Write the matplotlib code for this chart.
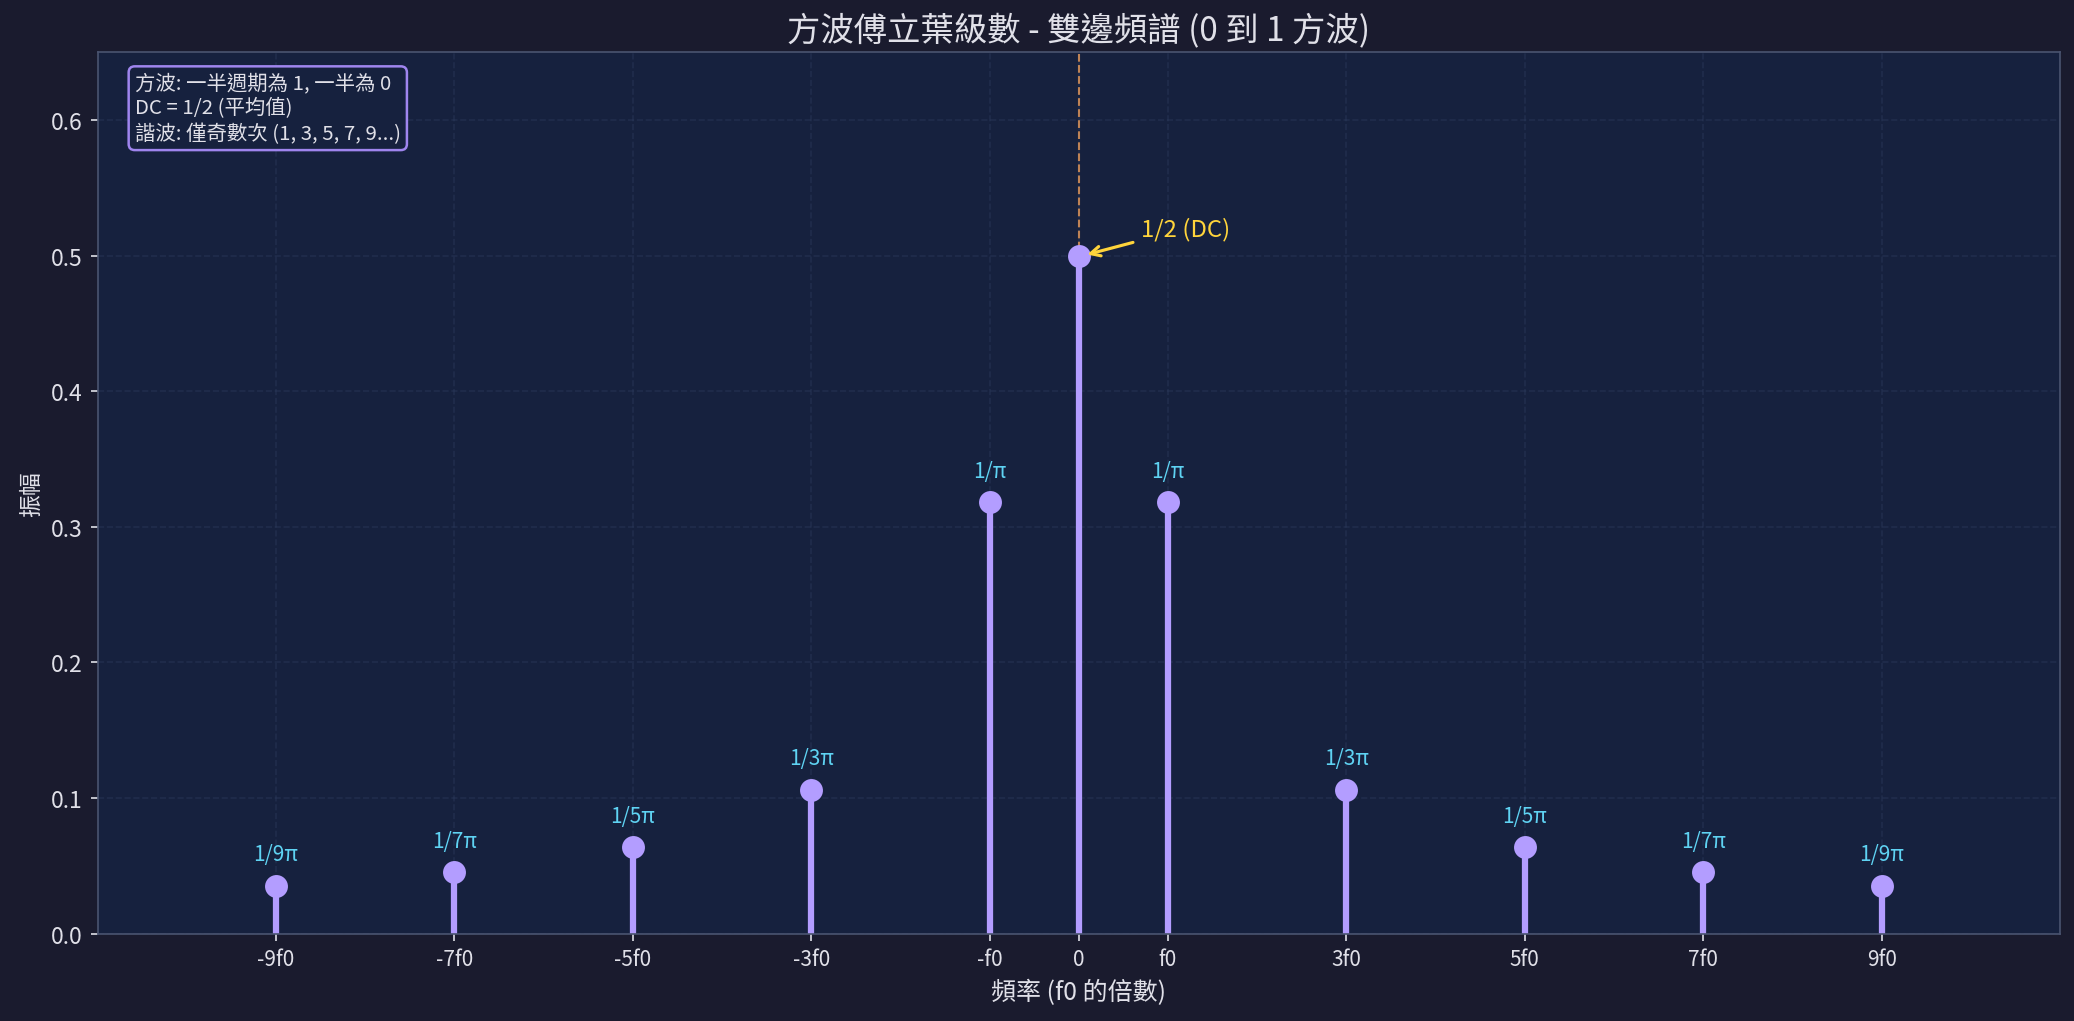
import numpy as np
import matplotlib.pyplot as plt

plt.rcParams['font.family'] = ['Noto Sans CJK TC', 'DejaVu Sans']
plt.rcParams['axes.unicode_minus'] = False

# harmonic indices (multiples of f0) and amplitudes of the two-sided spectrum
harmonics = [-9, -7, -5, -3, -1, 0, 1, 3, 5, 7, 9]
amplitudes = [1/(9*np.pi), 1/(7*np.pi), 1/(5*np.pi), 1/(3*np.pi), 1/np.pi, 0.5,
              1/np.pi, 1/(3*np.pi), 1/(5*np.pi), 1/(7*np.pi), 1/(9*np.pi)]
stem_labels = ['1/9π', '1/7π', '1/5π', '1/3π', '1/π', None,
               '1/π', '1/3π', '1/5π', '1/7π', '1/9π']
tick_labels = ['-9f0', '-7f0', '-5f0', '-3f0', '-f0', '0',
               'f0', '3f0', '5f0', '7f0', '9f0']

bg = '#1a1b2e'
ax_bg = '#16213e'
stem_c = '#b39dff'
label_c = '#5fd3f3'
text_c = '#e0e0e8'

fig = plt.figure(figsize=(13.83, 6.813), dpi=150, facecolor=bg)
ax = fig.add_axes([0.047, 0.0855, 0.946, 0.8625])
ax.set_facecolor(ax_bg)

ax.axvline(0, color='#e89a5a', ls='--', lw=1, alpha=0.8, zorder=1)

for h, a in zip(harmonics, amplitudes):
    ax.vlines(h, 0, a, color=stem_c, lw=3, zorder=2)
ax.plot(harmonics, amplitudes, 'o', color=stem_c, ms=10, zorder=3)

for h, a, lab in zip(harmonics, amplitudes, stem_labels):
    if lab:
        ax.text(h, a + 0.015, lab, color=label_c, ha='center', va='bottom', fontsize=10)

ax.annotate('1/2 (DC)', xy=(0.05, 0.5), xytext=(0.7, 0.515),
            color='#ffd43b', fontsize=11.5,
            arrowprops=dict(arrowstyle='->', color='#ffd43b', lw=1.5))

ax.text(0.019, 0.977, '方波: 一半週期為 1, 一半為 0\nDC = 1/2 (平均值)\n諧波: 僅奇數次 (1, 3, 5, 7, 9...)',
        transform=ax.transAxes, va='top', ha='left', fontsize=9.8, color=text_c,
        linespacing=1.25,
        bbox=dict(boxstyle='round,pad=0.3', facecolor=ax_bg, edgecolor='#9f85ee', lw=1.2))

ax.set_xlim(-11, 11)
ax.set_ylim(0, 0.65)
ax.set_xticks(harmonics)
ax.set_xticklabels(tick_labels)
ax.tick_params(axis='x', colors=text_c, labelsize=10)
ax.tick_params(axis='y', colors=text_c, labelsize=11)
ax.grid(True, ls='--', color='#2c3a5c', alpha=0.45, lw=0.8)
ax.set_axisbelow(True)
for s in ax.spines.values():
    s.set_color('#4a5470')

ax.set_title('方波傅立葉級數 - 雙邊頻譜 (0 到 1 方波)', color=text_c, fontsize=16)
ax.set_xlabel('頻率 (f0 的倍數)', color=text_c, fontsize=12)
ax.set_ylabel('振幅', color=text_c, fontsize=11)

fig.savefig('out.png', dpi=150, facecolor=bg)
